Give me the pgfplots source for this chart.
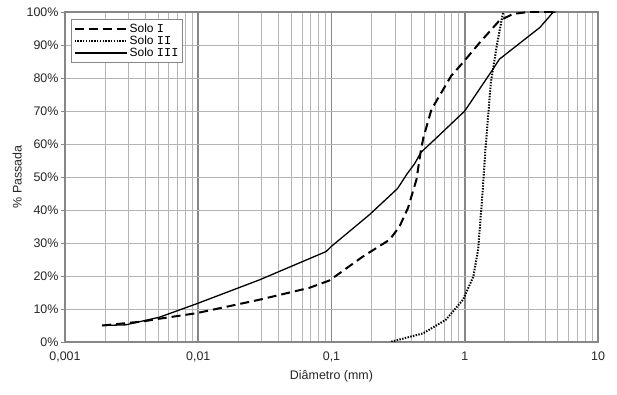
\documentclass[border=0pt]{standalone}
\usepackage{fontspec}
\setmainfont{Liberation Sans}
\setmonofont{Liberation Mono}
\usepackage{pgfplots}
\pgfplotsset{compat=1.18}
\definecolor{majg}{RGB}{135,135,135}
\definecolor{ming}{RGB}{180,180,180}
\begin{document}
\begin{tikzpicture}
\begin{axis}[
  xmode=log, log basis x=10,
  width=533bp, height=330bp, scale only axis,
  xmin=0.001, xmax=10, ymin=0, ymax=100,
  xtick={0.001,0.01,0.1,1,10},
  xticklabels={{0,001},{0,01},{0,1},1,10},
  minor xtick={0.002,0.003,0.004,0.005,0.006,0.007,0.008,0.009,
               0.02,0.03,0.04,0.05,0.06,0.07,0.08,0.09,
               0.2,0.3,0.4,0.5,0.6,0.7,0.8,0.9,
               2,3,4,5,6,7,8,9},
  ytick={0,10,...,100},
  yticklabels={0\%,10\%,20\%,30\%,40\%,50\%,60\%,70\%,80\%,90\%,100\%},
  xmajorgrids, xminorgrids, ymajorgrids,
  major x grid style={majg, line width=1.6bp},
  minor x grid style={ming, line width=0.8bp},
  major y grid style={ming, line width=0.8bp},
  x axis line style={majg, line width=1bp},
  y axis line style={majg, line width=1.6bp},
  tick align=outside, major tick length=4bp, minor tick length=0pt,
  xtick style={draw=none},
  ytick style={majg, line width=0.8bp},
  ytick pos=left,
  tick label style={font=\fontsize{12.5}{14}\selectfont, text=black!85},
  yticklabel style={xshift=1bp},
  xticklabel style={yshift=-2bp},
  label style={font=\fontsize{12.5}{14}\selectfont, text=black!85},
  xlabel={Diâmetro (mm)},
  ylabel={\% Passada},
  xlabel style={yshift=-2bp},
  ylabel style={yshift=-2bp},
  legend style={at={(0.012,0.978)}, anchor=north west, draw=majg, line width=0.6bp,
    fill=white, font=\fontsize{12}{12}\selectfont, row sep=-2bp, inner sep=2bp,
    cells={anchor=west}},
  legend image code/.code={\draw[#1] (0bp,0bp) -- (52bp,0bp);},
]
\addplot[black, line width=2bp, dash pattern=on 9bp off 5bp] coordinates {
(0.0019,5) (0.0038,6.2) (0.005,7) (0.0096,8.7) (0.0287,12.8) (0.068,16.4)
(0.096,18.6) (0.111,20.4) (0.172,25.9) (0.273,31) (0.324,35) (0.375,40.6)
(0.434,49.2) (0.47,58.4) (0.49,62) (0.563,70.5) (0.79,80.6) (0.97,84.7)
(1.30,90.8) (1.82,97.4) (2.3,99.4) (3,100) (4.6,100)};
\addlegendentry{Solo \texttt{I}}
\addplot[black, line width=2bp, dash pattern=on 1.4bp off 1.4bp] coordinates {
(0.281,0.1) (0.485,2.6) (0.72,6.7) (0.97,12.8) (1.16,19.8) (1.26,28)
(1.33,40.1) (1.36,45.2) (1.43,58.4) (1.57,78.6) (1.74,89.8) (1.94,99.9)};
\addlegendentry{Solo \texttt{II}}
\addplot[black, line width=1.3bp] coordinates {
(0.0019,5) (0.00286,5.2) (0.0051,7.5) (0.0096,11.5) (0.0287,18.8) (0.091,27.4)
(0.1,29) (0.193,38.6) (0.313,46.5) (0.37,51) (0.42,54) (0.47,57.5) (0.6,61.5)
(1.0,70) (1.63,82.7) (1.82,85.7) (3.66,95.3) (4.6,99.9) (4.8,100)};
\addlegendentry{Solo \texttt{III}}
\end{axis}
\pgfresetboundingbox
\path (-65bp,-53bp) rectangle (552bp,342bp);
\end{tikzpicture}
\end{document}
